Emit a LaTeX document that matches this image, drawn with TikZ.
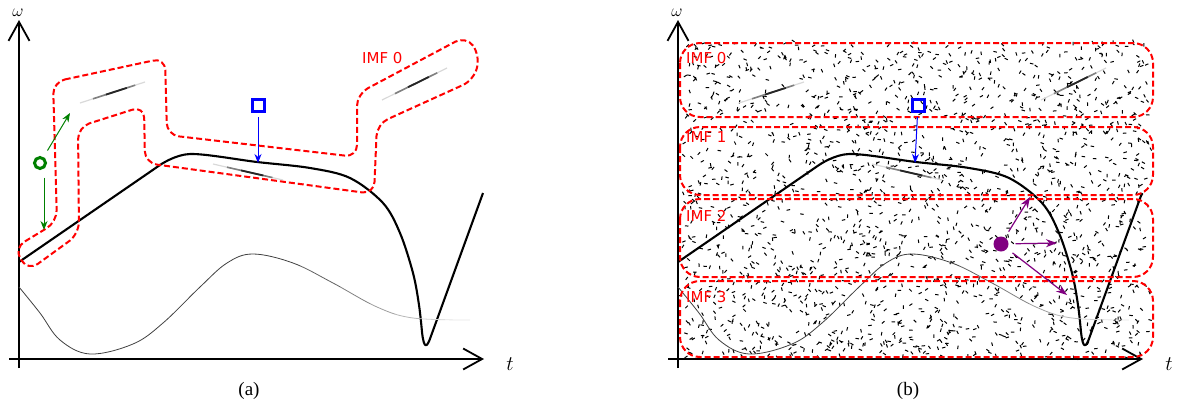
\documentclass[tikz,border=0pt]{standalone}
\usepackage{fontspec}
\setmainfont{Liberation Serif}
\newfontfamily\imffont{DejaVu Sans}
\usetikzlibrary{arrows.meta,calc}

\definecolor{imfred}{RGB}{255,0,0}
\definecolor{mkgreen}{RGB}{0,128,0}
\definecolor{mkblue}{RGB}{0,0,255}
\definecolor{mkpurple}{RGB}{128,0,128}

\tikzset{
  axis/.style={line width=1.8pt,-{Straight Barb[length=19pt,width=21pt]}},
  signal/.style={line width=2.1pt,line join=round},
  imfline/.style={draw=imfred,dash pattern=on 6pt off 3pt,line width=2pt},
  imflabel/.style={text=imfred,font=\imffont\fontsize{15}{15}\selectfont,inner sep=0pt},
  axlabel/.style={font=\fontsize{21}{21}\selectfont,inner sep=0pt},
  caption/.style={font=\fontsize{19}{19}\selectfont,inner sep=0pt},
  noise/.style={line width=1pt,black},
  grnmark/.style={circle,draw=mkgreen,line width=3pt,minimum size=11pt,inner sep=0pt,outer sep=9pt},
  bluemark/.style={rectangle,draw=mkblue,line width=3pt,minimum size=12pt,inner sep=0pt,outer sep=6pt},
  purpmark/.style={circle,fill=mkpurple,minimum size=15pt,inner sep=0pt,outer sep=7pt},
  grnarrow/.style={mkgreen,line width=1pt,-{Stealth[length=9pt,width=7pt]}},
  bluearrow/.style={mkblue,line width=1pt,-{Stealth[length=9pt,width=7pt]}},
  purparrow/.style={mkpurple,line width=1.2pt,-{Stealth[length=11pt,width=8pt]}},
}

% curves shared by both panels
\newcommand{\drawsignals}{%
  \draw[signal] (19,262) -- plot[smooth,tension=0.55] coordinates {(160,165) (190,154) (257,162)
    (310,168) (350,178) (383,203) (400,233) (413,273) (419,305) (422,332)}
    .. controls (424,350) and (427,348) .. (431,336) -- (483,193);
  \foreach \xa/\xb/\sh in {0/300/75,300/340/62,340/370/50,370/395/38,395/420/28,420/445/18,445/480/10}{
    \begin{scope}
      \clip (\xa,0) rectangle (\xb,400);
      \draw[black!\sh,line width=0.8pt] plot[smooth,tension=0.6] coordinates {(19,287) (40,313)
        (60,340) (90,354) (133,344) (163,323) (200,287) (227,263) (253,254) (293,263)
        (333,283) (377,307) (413,318) (470,320)};
    \end{scope}
  }
  \foreach \ax/\ay/\bx/\by in {80/103/145/82,213/164/283/180,382/100/447/68}{
    \draw[black!15,line width=1.2pt] (\ax,\ay) -- (\bx,\by);
    \draw[black!50,line width=1.6pt] ($(\ax,\ay)!0.2!(\bx,\by)$) -- ($(\ax,\ay)!0.85!(\bx,\by)$);
    \draw[black!85,line width=1.8pt] ($(\ax,\ay)!0.4!(\bx,\by)$) -- ($(\ax,\ay)!0.72!(\bx,\by)$);
  }
}

\begin{document}
\begin{tikzpicture}[x=1pt,y=-1pt,>=Stealth]
  \useasboundingbox (0,0) rectangle (1184,410);

  % (a)
  \draw[axis] (9,359) -- (484,359);
  \draw[axis] (19,368) -- (19,20);
  \node[axlabel,font=\fontsize{19}{19}\selectfont,anchor=base] (wa) at (18,16) {$\omega$};
  \node[axlabel] (ta) at (510,364) {$t$};
  \node[caption] (capa) at (249,391) {(a)};
  \drawsignals
  \draw[imfline,rounded corners=12pt] (53,82) -- (165,58) -- (167,135) -- (357,157) -- (357,94)
    -- (466,36) -- (480,55) -- (474,80) -- (377,124) -- (374,194) -- (145,163) -- (144,106)
    -- (78,127) -- (79,234) -- (28,271) -- (14,248) -- (57,222) -- cycle;
  \node[imflabel,anchor=west] (imfa) at (362,58) {IMF 0};
  \node[grnmark] (grn) at (40,163) {};
  \coordinate (grn-up) at (70,113);
  \coordinate (grn-down) at (44,230);
  \draw[grnarrow] (grn) -- (grn-up);
  \draw[grnarrow] ([xshift=4pt]grn.south) -- (grn-down);
  \node[bluemark] (sqa) at (258,105) {};
  \coordinate (sqa-end) at (258,163);
  \draw[bluearrow] (sqa) -- (sqa-end);

  % (b)
  \pgfmathsetseed{12}
  \draw[noise] \foreach \i in {1,...,1900}{ ({682+468*rnd},{42+316*rnd}) -- ++({360*rnd}:3.5) };
  \draw[axis] (668,359) -- (1143,359);
  \draw[axis] (678,368) -- (678,20);
  \node[axlabel,font=\fontsize{19}{19}\selectfont,anchor=base] (wb) at (677,16) {$\omega$};
  \node[axlabel] (tb) at (1169,364) {$t$};
  \node[caption] (capb) at (908,391) {(b)};
  \begin{scope}[shift={(659,0)}]
    \drawsignals
  \end{scope}
  \foreach \top/\bot/\ly [count=\k from 0] in {43/117/58,127/195/137,199/277/216,281/357/297}{
    \draw[imfline,rounded corners=20pt] (680,\top) rectangle (1153,\bot);
    \node[imflabel,anchor=west] (imf\k) at (686,\ly) {IMF \k};
  }
  \node[bluemark] (sqb) at (918,105) {};
  \coordinate (sqb-end) at (915,163);
  \draw[bluearrow] (sqb) -- (sqb-end);
  \node[purpmark] (pdot) at (1001,244) {};
  \coordinate (p-up) at (1030,197);
  \coordinate (p-right) at (1057,243);
  \coordinate (p-down) at (1067,295);
  \draw[purparrow] (pdot) -- (p-up);
  \draw[purparrow] (pdot) -- (p-right);
  \draw[purparrow] (pdot) -- (p-down);
\end{tikzpicture}
\end{document}
